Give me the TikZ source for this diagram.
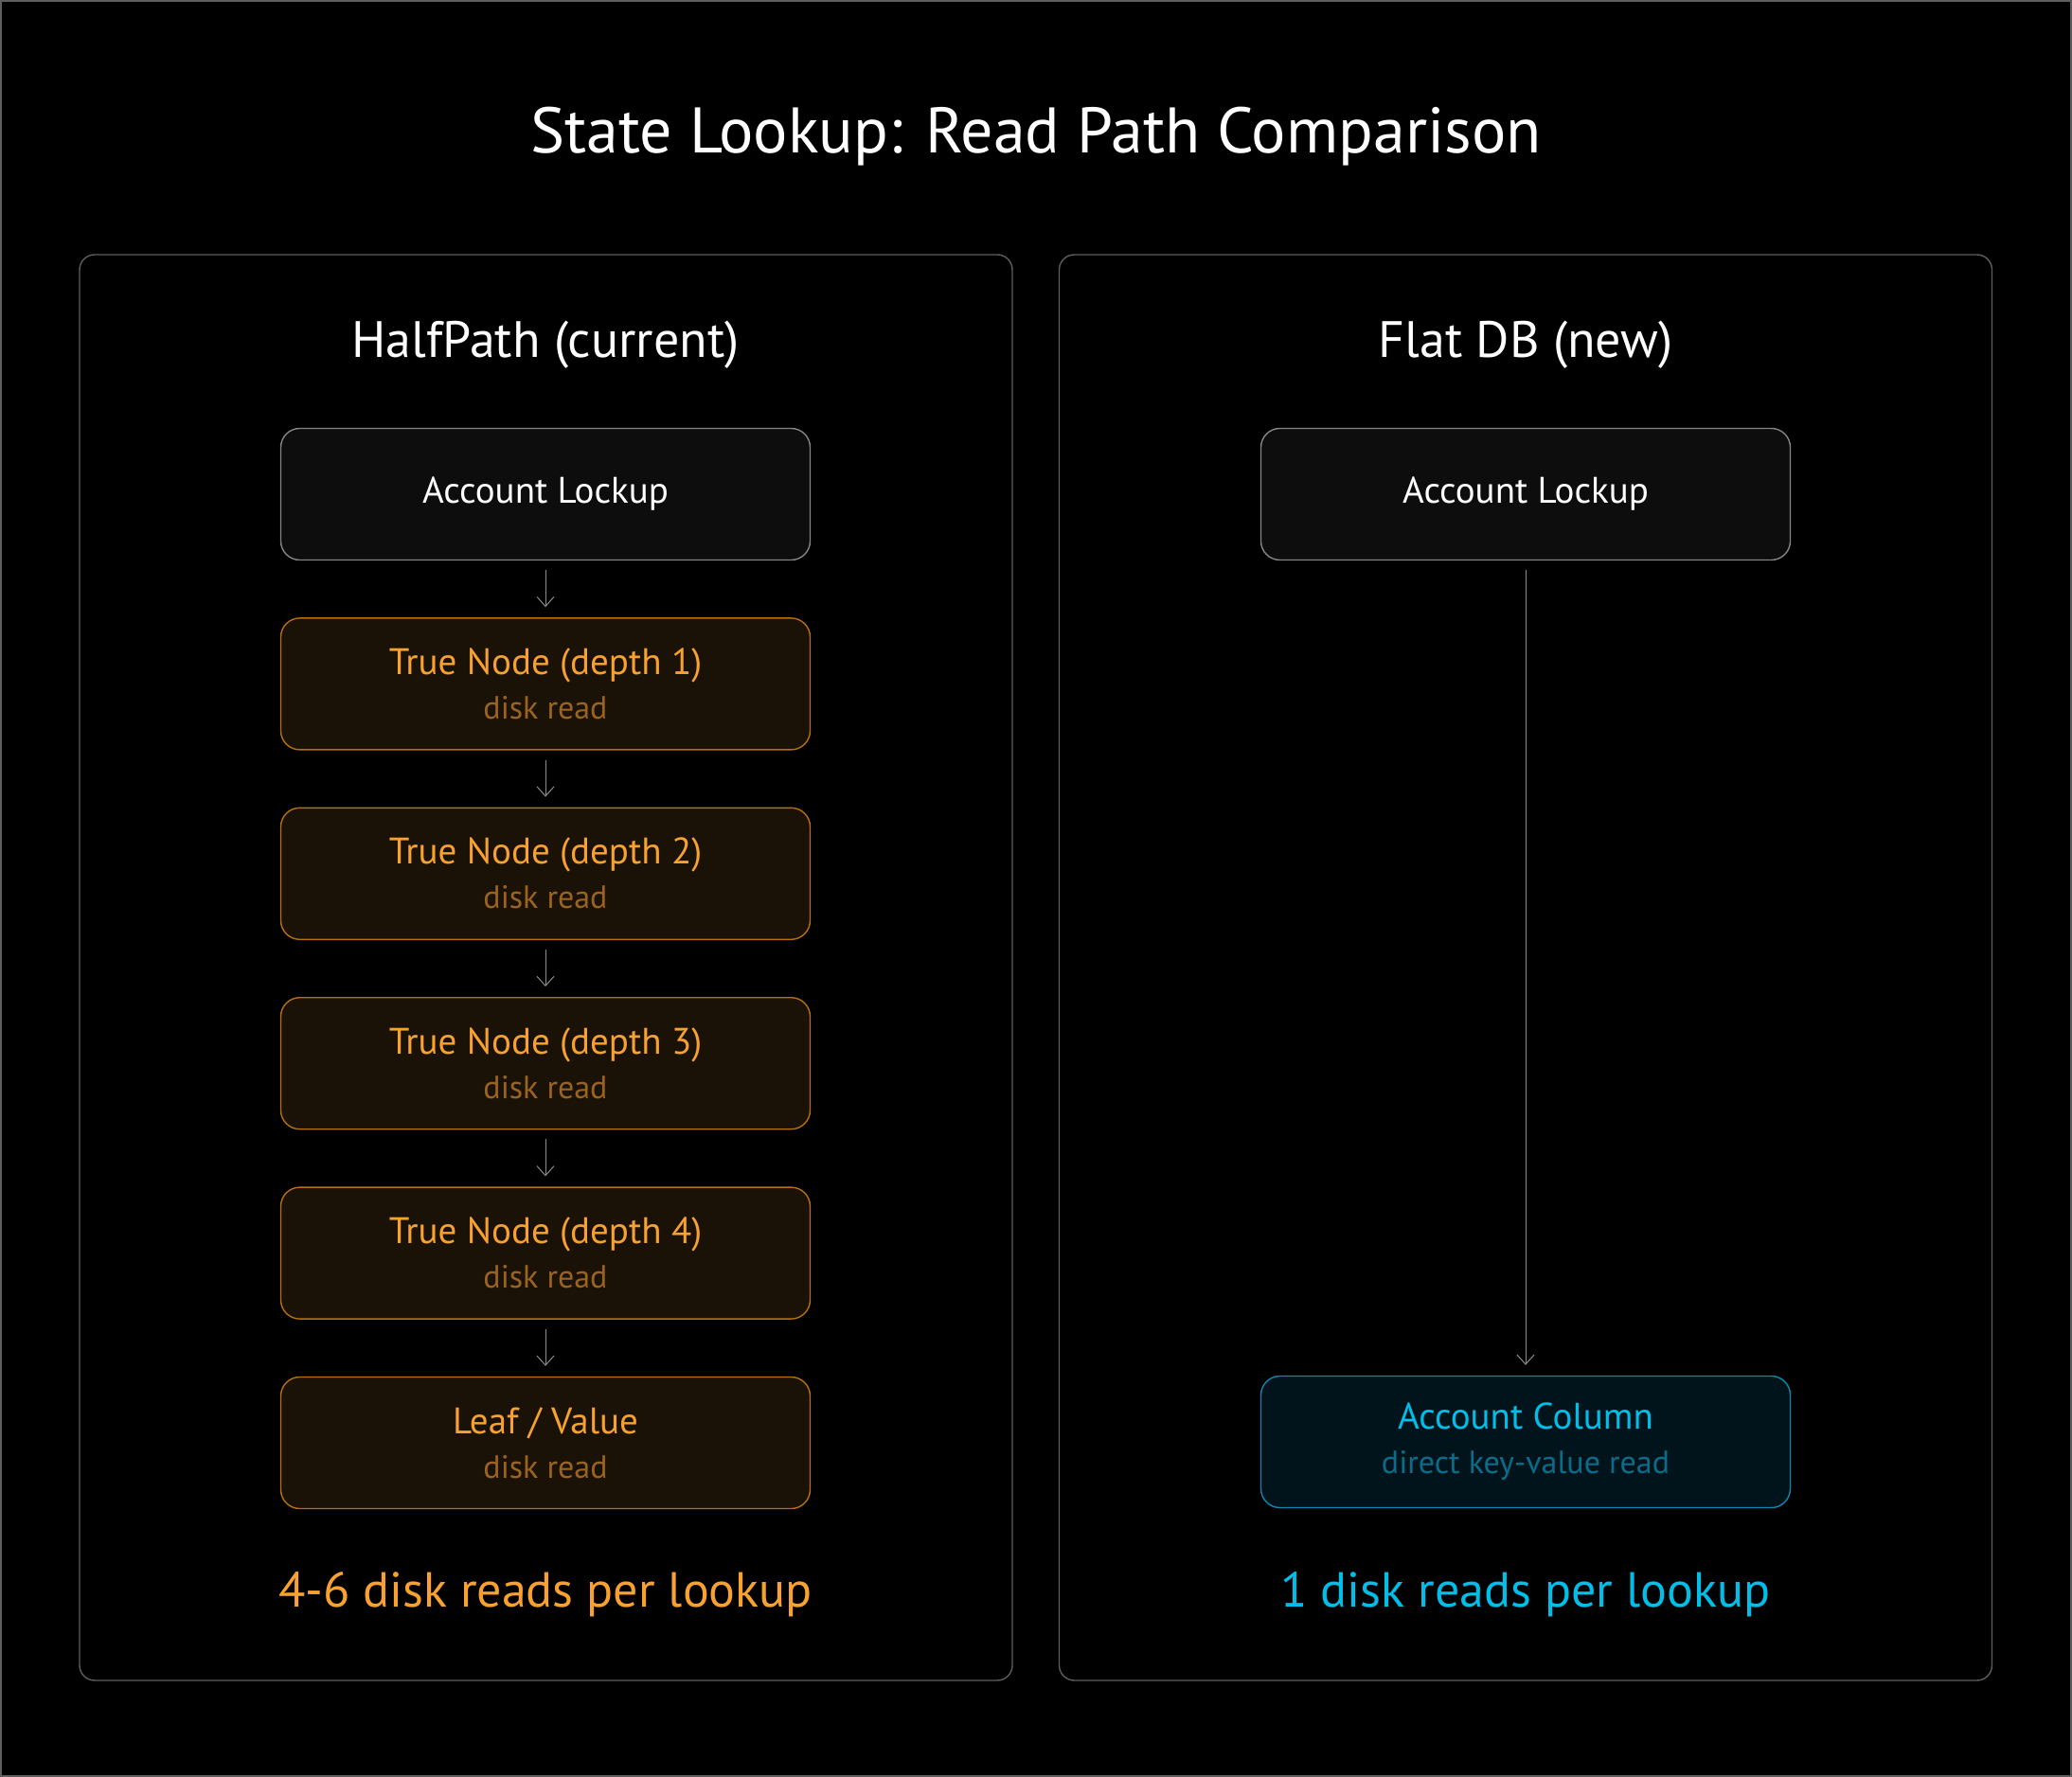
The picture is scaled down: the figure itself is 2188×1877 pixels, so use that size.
\documentclass[tikz,border=0pt]{standalone}
\usepackage{fontspec}
\setmainfont{PT Sans}
\usetikzlibrary{arrows.meta,positioning}

\definecolor{panelgray}{HTML}{5E5E5E}
\definecolor{boxgray}{HTML}{858585}
\definecolor{boxfill}{HTML}{0D0D0D}
\definecolor{arrowgray}{HTML}{8C8C8C}
\definecolor{orgline}{HTML}{B8700F}
\definecolor{orgfill}{HTML}{1B1207}
\definecolor{orgtext}{HTML}{F7A130}
\definecolor{orgsub}{HTML}{9A6420}
\definecolor{cyanline}{HTML}{0E86AD}
\definecolor{cyanfill}{HTML}{02141B}
\definecolor{cyantext}{HTML}{00BEE8}
\definecolor{cyansub}{HTML}{0B6C8A}

\newcommand{\subtext}[2]{{\fontsize{17}{23.5}\selectfont\color{#1}#2}}

\begin{document}
\begin{tikzpicture}[
	x=0.5pt, y=-0.5pt,
	font=\fontsize{19.5}{23.5}\selectfont,
	node distance=30pt,
	>={Straight Barb[length=5pt,width=9pt]},
	panel/.style={rectangle, rounded corners=8pt, draw=panelgray, line width=0.7pt, minimum width=492.5pt, minimum height=753pt},
	plain/.style={rectangle, rounded corners=10pt, draw=boxgray, fill=boxfill, line width=0.7pt, minimum width=279.5pt, minimum height=69.5pt, align=center, text=white},
	disk/.style={plain, draw=orgline, fill=orgfill, text=orgtext},
	flat/.style={plain, draw=cyanline, fill=cyanfill, text=cyantext},
	link/.style={->, draw=arrowgray, line width=0.5pt, shorten <=5pt, shorten >=5.5pt},
	heading/.style={text=white, font=\fontsize{27}{32}\selectfont},
	total/.style={font=\fontsize{26}{31}\selectfont}
]

% --- Canvas ---
\useasboundingbox (0,0) rectangle (2188,1877);
\fill[black] (0,0) rectangle (2188,1877);
\draw[panelgray, line width=1pt] (1,1) rectangle (2187,1876);

\node[text=white, font=\fontsize{34}{40}\selectfont] (title) at (1094,144) {State Lookup: Read Path Comparison};

% --- Panels ---
\node[panel] (halfpanel) at (576.5,1022) {};
\node[panel] (flatpanel) at (1611,1022) {};

\node[heading] (halftitle) at (576,364) {HalfPath (current)};
\node[heading] (flattitle) at (1611,364) {Flat DB (new)};

% --- HalfPath chain ---
\node[plain] (acc) at (576,522) {Account Lockup};
\node[disk, below=of acc] (d1) {True Node (depth 1)\\\subtext{orgsub}{disk read}};
\node[disk, below=of d1] (d2) {True Node (depth 2)\\\subtext{orgsub}{disk read}};
\node[disk, below=of d2] (d3) {True Node (depth 3)\\\subtext{orgsub}{disk read}};
\node[disk, below=of d3] (d4) {True Node (depth 4)\\\subtext{orgsub}{disk read}};
\node[disk, below=of d4] (leaf) {Leaf / Value\\\subtext{orgsub}{disk read}};

\draw[link] (acc) -- (d1);
\draw[link] (d1) -- (d2);
\draw[link] (d2) -- (d3);
\draw[link] (d3) -- (d4);
\draw[link] (d4) -- (leaf);

\node[total, text=orgtext] (halftotal) at (576,1684) {4-6 disk reads per lookup};

% --- Flat DB ---
\node[plain] (flatacc) at (1611,522) {Account Lockup};
\node[flat] (column) at (1611,1523) {Account Column\\\subtext{cyansub}{direct key-value read}};
\draw[link] (flatacc) -- (column);

\node[total, text=cyantext] (flattotal) at (1611,1684) {1 disk reads per lookup};

\end{tikzpicture}
\end{document}
